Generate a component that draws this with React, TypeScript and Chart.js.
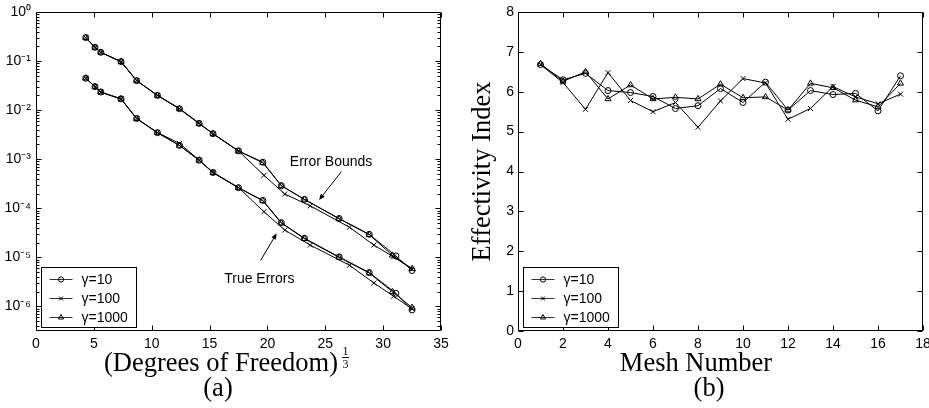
import React, { useEffect, useRef } from 'react';
import { Chart, registerables } from 'chart.js';

Chart.register(...registerables);

const SANS = '"Liberation Sans", Arial, Helvetica, sans-serif';
const SERIF = '"Liberation Serif", "Times New Roman", Times, serif';

// ---------------- Panel (a): error bounds and true errors ----------------
const dofGamma10 = [4.3, 5.1, 5.6, 7.35, 8.7, 10.5, 12.4, 14.1, 15.3, 17.5, 19.6, 21.2, 23.2, 26.2, 28.8, 31.1, 32.5];
const dofGamma100 = [4.3, 5.1, 5.6, 7.35, 8.7, 10.5, 12.4, 14.1, 15.3, 17.5, 19.7, 21.5, 23.7, 27.1, 29.2, 30.9, 32.5];
const dofGamma1000 = [4.3, 5.1, 5.6, 7.35, 8.7, 10.5, 12.4, 14.1, 15.3, 17.5, 19.6, 21.2, 23.2, 26.2, 28.8, 30.8, 32.5];

const boundGamma10 = [0.302, 0.191, 0.151, 0.0977, 0.0398, 0.02, 0.0107, 0.00537, 0.00331, 0.00148, 0.00087, 0.000288, 0.000151, 6.2e-5, 2.95e-5, 1.07e-5, 5.4e-6];
const boundGamma100 = [0.3, 0.19, 0.15, 0.097, 0.04, 0.02, 0.0108, 0.0054, 0.0033, 0.00148, 0.00047, 0.000195, 0.000112, 4.1e-5, 1.78e-5, 1.02e-5, 5.75e-6];
const boundGamma1000 = [0.298, 0.189, 0.15, 0.097, 0.04, 0.0198, 0.0106, 0.0053, 0.0033, 0.00146, 0.00085, 0.00029, 0.000152, 6.1e-5, 2.9e-5, 1.1e-5, 5.9e-6];

const errorGamma10 = [0.0447, 0.0302, 0.0234, 0.017, 0.00676, 0.00347, 0.00191, 0.000955, 0.000537, 0.000263, 0.000145, 5.1e-5, 2.45e-5, 1.02e-5, 4.9e-6, 1.86e-6, 8.5e-7];
const errorGamma100 = [0.0447, 0.03, 0.0233, 0.017, 0.0067, 0.0035, 0.0021, 0.00096, 0.00054, 0.000265, 8.5e-5, 3.6e-5, 1.78e-5, 6.9e-6, 3.0e-6, 1.62e-6, 8.9e-7];
const errorGamma1000 = [0.0447, 0.03, 0.0232, 0.0168, 0.0067, 0.00345, 0.0019, 0.00095, 0.00053, 0.00026, 0.000143, 5.0e-5, 2.4e-5, 1.0e-5, 4.8e-6, 2.0e-6, 9.5e-7];

const xTicksA = [0, 5, 10, 15, 20, 25, 30, 35];
const yDecadesA = [-7, -6, -5, -4, -3, -2, -1, 0];
const yMinA = 3.16e-7;
const yMaxA = 1;

const annotationTexts = ['Error Bounds', 'True Errors'];
const annotationAnchors = [[25.5, 8.7e-4], [19.3, 3.6e-6]];
const arrowFrom = [[26.4, 5.6e-4], [19.42, 8.7e-6]];
const arrowTo = [[24.46, 1.48e-4], [20.8, 3.1e-5]];

// ---------------- Panel (b): effectivity index ----------------
const meshNumbers = [1, 2, 3, 4, 5, 6, 7, 8, 9, 10, 11, 12, 13, 14, 15, 16, 17];
const effGamma10 = [6.68, 6.3, 6.46, 6.03, 5.98, 5.88, 5.58, 5.65, 6.08, 5.73, 6.24, 5.54, 6.03, 5.93, 5.96, 5.52, 6.4];
const effGamma100 = [6.68, 6.23, 5.56, 6.48, 5.78, 5.5, 5.73, 5.11, 5.77, 6.33, 6.22, 5.31, 5.58, 6.13, 5.87, 5.7, 5.94];
const effGamma1000 = [6.7, 6.26, 6.5, 5.82, 6.17, 5.82, 5.86, 5.82, 6.19, 5.85, 5.87, 5.54, 6.21, 6.1, 5.79, 5.62, 6.21];

const xTicksB = [0, 2, 4, 6, 8, 10, 12, 14, 16, 18];
const yTicksB = [0, 1, 2, 3, 4, 5, 6, 7, 8];

const legendLabels = ['γ=10', 'γ=100', 'γ=1000'];
const markerStyles = ['circle', 'crossRot', 'triangle'];

// ---------------- helpers ----------------
const SUP: Record<string, string> = { '-': '⁻', '0': '⁰', '1': '¹', '2': '²', '3': '³', '4': '⁴', '5': '⁵', '6': '⁶', '7': '⁷', '8': '⁸', '9': '⁹' };
const toSup = (n: number) => String(n).split('').map((c) => SUP[c] || c).join('');

function drawMarker(ctx: CanvasRenderingContext2D, style: string, x: number, y: number, r: number) {
  ctx.beginPath();
  if (style === 'circle') {
    ctx.arc(x, y, r, 0, Math.PI * 2);
  } else if (style === 'crossRot') {
    const d = r * 0.75;
    ctx.moveTo(x - d, y - d); ctx.lineTo(x + d, y + d);
    ctx.moveTo(x - d, y + d); ctx.lineTo(x + d, y - d);
  } else {
    const rr = r * 1.15;
    ctx.moveTo(x, y - rr);
    ctx.lineTo(x + rr * Math.sin((2 * Math.PI) / 3), y - rr * Math.cos((2 * Math.PI) / 3));
    ctx.lineTo(x + rr * Math.sin((4 * Math.PI) / 3), y - rr * Math.cos((4 * Math.PI) / 3));
    ctx.closePath();
  }
  ctx.stroke();
}

function makeFramePlugin(xTicks: number[], yTicks: number[], logY: boolean) {
  return {
    id: 'frameTicks',
    afterDatasetsDraw(chart: any) {
      const { ctx, chartArea: ca, scales } = chart;
      const xs = scales.x, ys = scales.y;
      const L = Math.round(ca.left) + 0.5, R = Math.round(ca.right) - 0.5;
      const T = Math.round(ca.top) + 0.5, B = Math.round(ca.bottom) - 0.5;
      ctx.save();
      ctx.strokeStyle = '#000';
      ctx.lineWidth = 1;
      ctx.beginPath();
      ctx.rect(L, T, R - L, B - T);
      for (const v of xTicks) {
        const p = Math.round(xs.getPixelForValue(v)) + 0.5;
        ctx.moveTo(p, B); ctx.lineTo(p, B - 5);
        ctx.moveTo(p, T); ctx.lineTo(p, T + 5);
      }
      const list: [number, number][] = [];
      if (logY) {
        for (const d of yTicks) {
          for (let m = 1; m <= 9; m++) {
            const v = m * Math.pow(10, d);
            if (v >= ys.min * 0.999 && v <= ys.max * 1.001) list.push([v, m === 1 ? 5 : 3]);
          }
        }
      } else {
        for (const v of yTicks) list.push([v, 5]);
      }
      for (const [v, len] of list) {
        const p = Math.round(ys.getPixelForValue(v)) + 0.5;
        ctx.moveTo(L, p); ctx.lineTo(L + len, p);
        ctx.moveTo(R, p); ctx.lineTo(R - len, p);
      }
      ctx.stroke();
      ctx.restore();
    },
  };
}

function makeLegendPlugin() {
  return {
    id: 'boxLegend',
    afterDraw(chart: any) {
      const { ctx, chartArea: ca } = chart;
      const w = 95, h = 60;
      const bx = Math.round(ca.left + 5) + 0.5;
      const by = Math.round(ca.bottom - 4 - h) + 0.5;
      ctx.save();
      ctx.fillStyle = '#fff';
      ctx.fillRect(bx, by, w, h);
      ctx.strokeStyle = '#000';
      ctx.lineWidth = 1;
      ctx.strokeRect(bx, by, w, h);
      ctx.font = `14px ${SANS}`;
      ctx.textBaseline = 'middle';
      ctx.textAlign = 'left';
      ctx.fillStyle = '#000';
      legendLabels.forEach((lab, i) => {
        const yy = Math.round(by + 11.5 + i * 19) + 0.5;
        ctx.strokeStyle = '#333';
        ctx.beginPath();
        ctx.moveTo(bx + 8, yy);
        ctx.lineTo(bx + 31, yy);
        ctx.stroke();
        ctx.strokeStyle = '#000';
        drawMarker(ctx, markerStyles[i], bx + 19.5, yy, 2.6);
        ctx.fillText(lab, bx + 40, yy + 1);
      });
      ctx.restore();
    },
  };
}

function makeAnnotationPlugin() {
  return {
    id: 'annotations',
    afterDatasetsDraw(chart: any) {
      const { ctx, scales } = chart;
      const xs = scales.x, ys = scales.y;
      ctx.save();
      ctx.fillStyle = '#000';
      ctx.strokeStyle = '#000';
      ctx.lineWidth = 1;
      ctx.font = `14px ${SANS}`;
      ctx.textAlign = 'center';
      ctx.textBaseline = 'middle';
      annotationTexts.forEach((t, i) => {
        ctx.fillText(t, xs.getPixelForValue(annotationAnchors[i][0]), ys.getPixelForValue(annotationAnchors[i][1]));
        const x1 = xs.getPixelForValue(arrowFrom[i][0]), y1 = ys.getPixelForValue(arrowFrom[i][1]);
        const x2 = xs.getPixelForValue(arrowTo[i][0]), y2 = ys.getPixelForValue(arrowTo[i][1]);
        const ang = Math.atan2(y2 - y1, x2 - x1);
        const hl = 6, hw = 2.5;
        ctx.beginPath();
        ctx.moveTo(x1, y1);
        ctx.lineTo(x2 - Math.cos(ang) * hl * 0.8, y2 - Math.sin(ang) * hl * 0.8);
        ctx.stroke();
        ctx.beginPath();
        ctx.moveTo(x2, y2);
        ctx.lineTo(x2 - Math.cos(ang) * hl - Math.sin(ang) * hw, y2 - Math.sin(ang) * hl + Math.cos(ang) * hw);
        ctx.lineTo(x2 - Math.cos(ang) * hl + Math.sin(ang) * hw, y2 - Math.sin(ang) * hl - Math.cos(ang) * hw);
        ctx.closePath();
        ctx.fill();
      });
      ctx.restore();
    },
  };
}

function makeTitlesPluginA() {
  return {
    id: 'titlesA',
    afterDraw(chart: any) {
      const { ctx } = chart;
      ctx.save();
      ctx.fillStyle = '#000';
      ctx.font = `26.5px ${SERIF}`;
      ctx.textBaseline = 'alphabetic';
      ctx.textAlign = 'left';
      ctx.fillText('(Degrees of Freedom)', 104, 371);
      ctx.font = `12px ${SERIF}`;
      ctx.textAlign = 'center';
      ctx.fillText('1', 345.5, 355);
      ctx.fillText('3', 345.5, 368);
      ctx.fillRect(342, 357, 7, 1);
      ctx.font = `26.5px ${SERIF}`;
      ctx.fillText('(a)', 218, 396);
      ctx.restore();
    },
  };
}

function makeTitlesPluginB() {
  return {
    id: 'titlesB',
    afterDraw(chart: any) {
      const { ctx, chartArea: ca } = chart;
      ctx.save();
      ctx.fillStyle = '#000';
      ctx.font = `26.5px ${SERIF}`;
      ctx.textBaseline = 'alphabetic';
      ctx.textAlign = 'center';
      ctx.fillText('Mesh Number', 236, 371);
      ctx.fillText('(b)', 249, 396);
      ctx.translate(30, (ca.top + ca.bottom) / 2);
      ctx.rotate(-Math.PI / 2);
      ctx.fillText('Effectivity Index', 0, 0);
      ctx.restore();
    },
  };
}

function lineDataset(label: string, xs: number[], ys: number[], style: string) {
  return {
    label,
    data: xs.map((x, i) => ({ x, y: ys[i] })),
    borderColor: '#000',
    borderWidth: 1,
    pointStyle: style,
    pointRadius: style === 'triangle' ? 3.5 : style === 'crossRot' ? 3.5 : 3,
    pointBorderWidth: 1,
    pointBorderColor: '#000',
    pointBackgroundColor: 'rgba(0,0,0,0)',
    tension: 0,
    fill: false,
  };
}

const tickFont = { family: SANS, size: 14 };

function configA() {
  return {
    type: 'line',
    data: {
      datasets: [
        lineDataset('γ=10 bound', dofGamma10, boundGamma10, markerStyles[0]),
        lineDataset('γ=100 bound', dofGamma100, boundGamma100, markerStyles[1]),
        lineDataset('γ=1000 bound', dofGamma1000, boundGamma1000, markerStyles[2]),
        lineDataset('γ=10 error', dofGamma10, errorGamma10, markerStyles[0]),
        lineDataset('γ=100 error', dofGamma100, errorGamma100, markerStyles[1]),
        lineDataset('γ=1000 error', dofGamma1000, errorGamma1000, markerStyles[2]),
      ],
    },
    options: {
      responsive: false,
      animation: false,
      devicePixelRatio: 1,
      layout: { padding: { left: 0, top: 12, right: 19, bottom: 0 } },
      plugins: { legend: { display: false }, tooltip: { enabled: false } },
      scales: {
        x: {
          type: 'linear',
          min: xTicksA[0],
          max: xTicksA[xTicksA.length - 1],
          grid: { display: false, drawTicks: false },
          border: { display: false },
          ticks: { stepSize: 5, font: tickFont, color: '#000', padding: 5, autoSkip: false, maxRotation: 0 },
          afterFit: (s: any) => { s.height = 77; s.paddingLeft = 0; s.paddingRight = 0; },
        },
        y: {
          type: 'logarithmic',
          min: yMinA,
          max: yMaxA,
          grid: { display: false, drawTicks: false },
          border: { display: false },
          ticks: {
            font: tickFont,
            color: '#000',
            padding: 5,
            autoSkip: false,
            callback: (v: number) => {
              const e = Math.log10(v);
              if (Math.abs(e - Math.round(e)) > 1e-6) return '';
              return '10' + toSup(Math.round(e));
            },
          },
          afterFit: (s: any) => { s.width = 36; s.paddingTop = 0; s.paddingBottom = 0; },
        },
      },
    },
    plugins: [makeFramePlugin(xTicksA, yDecadesA, true), makeAnnotationPlugin(), makeLegendPlugin(), makeTitlesPluginA()],
  };
}

function configB() {
  return {
    type: 'line',
    data: {
      datasets: [
        lineDataset(legendLabels[0], meshNumbers, effGamma10, markerStyles[0]),
        lineDataset(legendLabels[1], meshNumbers, effGamma100, markerStyles[1]),
        lineDataset(legendLabels[2], meshNumbers, effGamma1000, markerStyles[2]),
      ],
    },
    options: {
      responsive: false,
      animation: false,
      devicePixelRatio: 1,
      layout: { padding: { left: 0, top: 12, right: 6, bottom: 0 } },
      plugins: { legend: { display: false }, tooltip: { enabled: false } },
      scales: {
        x: {
          type: 'linear',
          min: xTicksB[0],
          max: xTicksB[xTicksB.length - 1],
          grid: { display: false, drawTicks: false },
          border: { display: false },
          ticks: { stepSize: 2, font: tickFont, color: '#000', padding: 5, autoSkip: false, maxRotation: 0 },
          afterFit: (s: any) => { s.height = 77; s.paddingLeft = 0; s.paddingRight = 0; },
        },
        y: {
          type: 'linear',
          min: yTicksB[0],
          max: yTicksB[yTicksB.length - 1],
          grid: { display: false, drawTicks: false },
          border: { display: false },
          ticks: { stepSize: 1, font: tickFont, color: '#000', padding: 4, autoSkip: false },
          afterFit: (s: any) => { s.width = 58; s.paddingTop = 0; s.paddingBottom = 0; },
        },
      },
    },
    plugins: [makeFramePlugin(xTicksB, yTicksB, false), makeLegendPlugin(), makeTitlesPluginB()],
  };
}

function ChartCanvas({ left, width, makeConfig }: { left: number; width: number; makeConfig: () => any }) {
  const ref = useRef<HTMLCanvasElement | null>(null);
  useEffect(() => {
    if (!ref.current) return;
    const chart = new Chart(ref.current, makeConfig());
    return () => chart.destroy();
  }, []);
  return (
    <canvas
      ref={ref}
      width={width}
      height={408}
      style={{ position: 'absolute', left, top: 0, width, height: 408, display: 'block' }}
    />
  );
}

export default function App() {
  return (
    <div style={{ position: 'absolute', left: 0, top: 0, width: 929, height: 408, background: '#fff', overflow: 'hidden' }}>
      <ChartCanvas left={0} width={460} makeConfig={configA} />
      <ChartCanvas left={460} width={469} makeConfig={configB} />
    </div>
  );
}
